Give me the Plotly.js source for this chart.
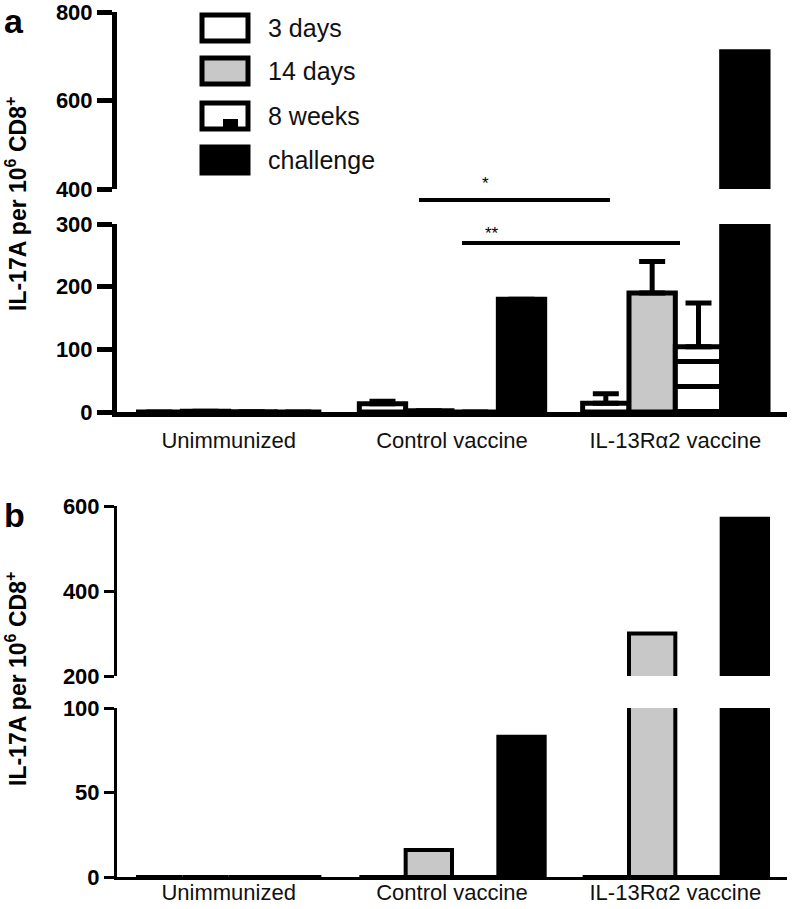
<!DOCTYPE html>
<html>
<head>
<meta charset="utf-8">
<script src="https://cdn.plot.ly/plotly-3.0.1.min.js"></script>
<style>html,body{margin:0;padding:0;background:#fff;}#chart{width:792px;height:909px;}</style>
</head>
<body>
<div id="chart"></div>
<script>
// ---- data ----
const categories = ['Unimmunized', 'Control vaccine', 'IL-13Rα2 vaccine'];
const seriesNames = ['3 days', '14 days', '8 weeks', 'challenge'];

// panel a
const a3days = [0, 13, 14];
const a3daysErr = [0, 4, 15];
const a14days = [1, 2, 190];
const a14daysErr = [0, 0, 50];
const a8weeks = [0.5, 0, 104];
const a8weeksErr = [0, 0, 70];
const aChallenge = [0, 180, 710];
const aChallengeErr = [0, 0, 0];

// panel b
const b3days = [0, 0, 0];
const b14days = [0, 16, 300];
const b8weeks = [0, 0, 0];
const bChallenge = [0, 83, 570];

const aTicksLow = [0, 100, 200, 300];
const aTicksHigh = [400, 600, 800];
const bTicksLow = [0, 50, 100];
const bTicksHigh = [200, 400, 600];

// ---- helpers ----
const W = 792, H = 909;
const px = x => x / W;
const py = y => 1 - y / H;
const FONT = 'Liberation Sans, Arial, Helvetica, sans-serif';

const fills = ['#ffffff', '#c8c8c8', '#ffffff', '#000000'];

function makeTraces(vals, errs, xa, ya, lw, withErr) {
  return vals.map((v, i) => {
    const t = {
      type: 'bar', x: categories, y: v, name: seriesNames[i],
      xaxis: xa, yaxis: ya, showlegend: false, hoverinfo: 'skip',
      marker: {color: fills[i], line: {color: '#000', width: lw}}
    };
    if (i === 2) {
      t.marker.pattern = {shape: '-', fgcolor: '#000', bgcolor: '#fff', size: 25, solidity: 0.2};
    }
    if (withErr && errs) {
      t.error_y = {type: 'data', symmetric: false, array: errs[i], arrayminus: v.map(() => 0),
        color: '#000', thickness: 5, width: 13, visible: true};
    }
    return t;
  });
}

const aVals = [a3days, a14days, a8weeks, aChallenge];
const aErrs = [a3daysErr, a14daysErr, a8weeksErr, aChallengeErr];
const bVals = [b3days, b14days, b8weeks, bChallenge];

const data = [].concat(
  makeTraces(aVals, aErrs, 'x', 'y', 5, true),
  makeTraces(aVals, null, 'x', 'y2', 5, false),
  makeTraces(bVals, null, 'x2', 'y3', 4, false),
  makeTraces(bVals, null, 'x2', 'y4', 4, false)
);

const tickFont = {family: FONT, size: 22, color: '#000', weight: 'bold'};
const catFont = {family: FONT, size: 22, color: '#111'};
const xDom = [px(117), px(787)];

function yAxis(dom, range, ticks, anchor, lw, tl) {
  return {domain: dom, range: range, tickvals: ticks, ticktext: ticks.map(String),
    anchor: anchor, showline: true, linecolor: '#000', linewidth: lw,
    ticks: 'outside', ticklen: tl, tickwidth: lw, tickcolor: '#000', ticklabeloverflow: 'allow',
    showgrid: false, zeroline: false, tickfont: tickFont, fixedrange: true, automargin: false};
}
function xAxis(anchor, lw, standoff) {
  return {domain: xDom, anchor: anchor, type: 'category', range: [-0.5, 2.5],
    showline: true, linecolor: '#000', linewidth: lw, ticks: '', showgrid: false,
    zeroline: false, tickfont: catFont, fixedrange: true, automargin: false, ticklabelstandoff: standoff};
}

const shapes = [];
const annotations = [];

// legend (panel a)
const legRows = [28, 71, 116, 160];
legRows.forEach((yc, i) => {
  shapes.push({type: 'rect', xref: 'paper', yref: 'paper',
    x0: px(202), x1: px(248), y0: py(yc - 13), y1: py(yc + 13),
    fillcolor: fills[i], line: {color: '#000', width: 5}});
  annotations.push({xref: 'paper', yref: 'paper', x: px(266), y: py(yc), xanchor: 'left', yanchor: 'middle',
    text: seriesNames[i], showarrow: false, font: {family: FONT, size: 25, color: '#111'}});
});
shapes.push({type: 'rect', xref: 'paper', yref: 'paper', x0: px(223), x1: px(238), y0: py(128), y1: py(119),
  fillcolor: '#000', line: {width: 0}});

// significance bars
shapes.push({type: 'line', xref: 'paper', yref: 'paper', x0: px(419), x1: px(610), y0: py(200), y1: py(200),
  line: {color: '#000', width: 4}});
shapes.push({type: 'line', xref: 'paper', yref: 'paper', x0: px(462), x1: px(680), y0: py(243), y1: py(243),
  line: {color: '#000', width: 4}});
annotations.push({xref: 'paper', yref: 'paper', x: px(485), y: py(172), text: '*', showarrow: false,
  font: {family: FONT, size: 17, color: '#000'}});
annotations.push({xref: 'paper', yref: 'paper', x: px(492), y: py(222), text: '**', showarrow: false,
  font: {family: FONT, size: 17, color: '#000'}});

// panel letters
annotations.push({xref: 'paper', yref: 'paper', x: px(2), y: py(0), xanchor: 'left', yanchor: 'top',
  text: '<b>a</b>', showarrow: false, font: {family: FONT, size: 34, color: '#000'}});
annotations.push({xref: 'paper', yref: 'paper', x: px(2), y: py(494), xanchor: 'left', yanchor: 'top',
  text: '<b>b</b>', showarrow: false, font: {family: FONT, size: 34, color: '#000'}});

// y titles
const yTitle = '<b>IL-17A per 10<sup>6</sup> CD8<sup>+</sup></b>';
annotations.push({xref: 'paper', yref: 'paper', x: px(16), y: py(204), textangle: -90,
  xanchor: 'center', yanchor: 'middle',
  text: yTitle, showarrow: false, font: {family: FONT, size: 23, color: '#000'}});
annotations.push({xref: 'paper', yref: 'paper', x: px(16), y: py(679), textangle: -90,
  xanchor: 'center', yanchor: 'middle',
  text: yTitle, showarrow: false, font: {family: FONT, size: 23, color: '#000'}});

const layout = {
  width: W, height: H,
  margin: {l: 0, r: 0, t: 0, b: 0, pad: 0},
  paper_bgcolor: '#fff', plot_bgcolor: 'rgba(0,0,0,0)',
  barmode: 'group', bargap: 0.17, bargroupgap: 0,
  showlegend: false,
  font: {family: FONT, color: '#000'},
  xaxis: xAxis('y', 5, 5),
  yaxis: yAxis([py(412), py(224)], [0, 300], aTicksLow, 'x', 5, 15),
  yaxis2: yAxis([py(189), py(12)], [400, 800], aTicksHigh, 'x', 5, 15),
  xaxis2: xAxis('y3', 3, -6),
  yaxis3: yAxis([py(877), py(708)], [0, 100], bTicksLow, 'x2', 3, 10),
  yaxis4: yAxis([py(676), py(506)], [200, 600], bTicksHigh, 'x2', 3, 10),
  shapes: shapes,
  annotations: annotations
};

Plotly.newPlot('chart', data, layout, {staticPlot: true, displayModeBar: false});
</script>
</body>
</html>
